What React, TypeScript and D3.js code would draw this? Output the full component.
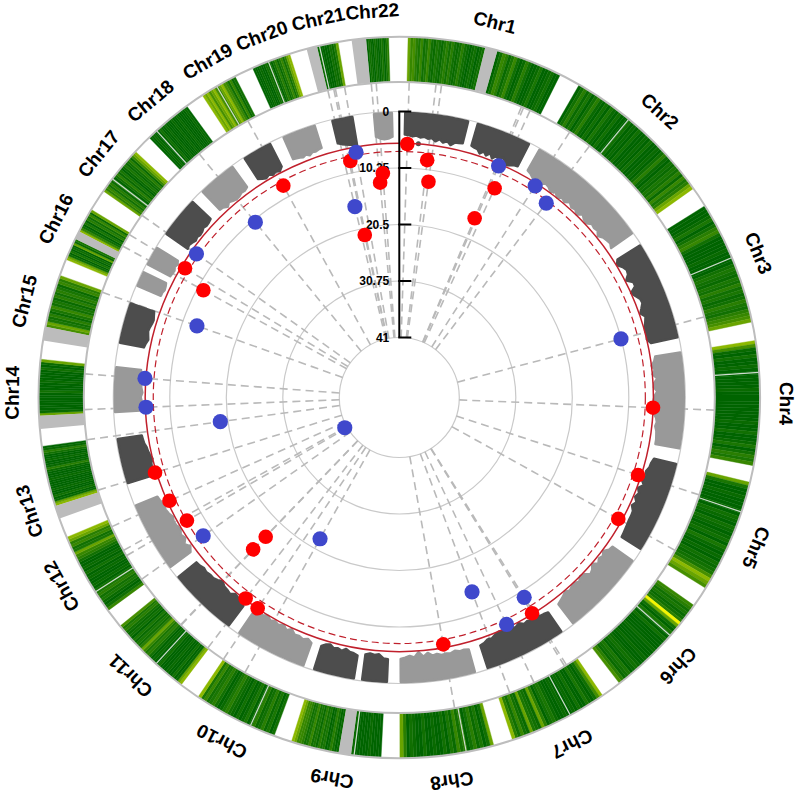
import * as d3 from 'd3';

const WIDTH = 797;
const HEIGHT = 798;
const CX = 399.3;
const CY = 397.5;

// chromosome labels, with the angle (degrees clockwise from top) they sit at
const chrNames = ['Chr1','Chr2','Chr3','Chr4','Chr5','Chr6','Chr7','Chr8','Chr9','Chr10','Chr11','Chr12','Chr13','Chr14','Chr15','Chr16','Chr17','Chr18','Chr19','Chr20','Chr21','Chr22'];
const chrAngles = [14.3,42.3,68.1,90.9,112.8,133.9,153.5,172.2,190,207.3,224,240.8,252.9,270.7,284.4,297.5,309,320,330.3,339.2,347.9,356];

// outer density ring: one entry per arm
const armStarts = [1.4,15.8,29.9,57.9,80.9,103.6,125.2,145.7,164.8,182.9,189.7,200.3,217.2,233.8,252.5,267.1,281.3,292.5,297.4,304.9,316.1,326.9,336,346.8,354.7];
const armEnds = [13.8,26.5,54.6,77.9,100.9,121.9,142.4,161.7,179.9,187.7,197.4,213.9,230.7,247.2,262.2,276.1,289.8,296.1,301.4,313,323.9,332.9,342.3,350.2,358.3];
const armDensity = [
  [7,5,6,4,3,5,2,3,5,2,1,3,2,1,3,4,2,4,2,1,2,4,2,1,0,1,2,0,1,2],
  [0,2,5,4,1,3,5,2,0,1,4,2,0,0,1,3,0,0,1,2,0,0],
  [0,2,4,1,3,0,2,4,1,0,2,0,3,1,0,2,0,0,0,2,0,1,0,2,0,0,1,0,2,0,0,1,0,2,4,1,0,2,1,3,2,4,1,5,3,4,7,8],
  [0,0,0,1,3,0,2,4,5,2,0,0,0,0,1,0,0,0,0,2,3,2,1,3,2,4,2,3,1,2,4,3,2,4,5,6,7],
  [8,6,1,0,2,0,0,1,0,0,0,0,0,0,1,0,0,0,0,0,0,0,0,0,1,0,0,2,0,0,1,3,0,2,4,3,5],
  [7,3,0,0,1,0,0,0,1,0,2,1,0,2,1,0,1,2,0,3,1,0,1,0,2,1,2,3,6,8,7,6],
  [5,4,2,3,1,2,4,10,7,2,0,3,1,0,2,0,0,0,0,1,0,0,0,1,0,0,1,2,1,0,3,2,1,4,6],
  [8,6,2,0,1,3,0,0,2,0,1,0,0,1,0,0,1,3,2,0,4,7,1,2,3,7,1,2,5,2,4,8],
  [7,2,0,3,1,4,2,0,4,2,5,1,3,0,2,0,0,1,0,0,2,0,0,1,2,0,4,7],
  [0,0,0,0,1,0,0,0,0,0,1],
  [1,0,2,4,1,0,3,2,4,1,3,2,5,3,2,4,5,5,7,8],
  [2,0,3,1,4,2,1,4,2,0,3,1,0,2,0,1,2,4,3,1,0,2,4,3,2,5,3,8],
  [8,7,1,0,2,0,0,1,0,0,0,2,0,0,1,0,2,4,3,5,7,4,2,3,1,3,0,2,1,2,4,3,6],
  [5,2,0,1,3,2,4,3,2,0,1,0,0,1,0,2,0,1,0,0,2,4,5,7,3,2,5,4,7,8],
  [8,7,1,0,2,0,0,1,0,0,0,0,1,0,0,0,1,4,1,0,0,1,0,0,2,4,1,0],
  [7,1,0,0,0,0,0,0,0,2,0,0,0,1,0,0,0,0,2,0,1,7],
  [6,7,3,2,4,1,3,5,2,3,1,4,2,4,3,1,5,4,7],
  [8,7,2,0,3,0,2,0,7,1,3],
  [8,5,2,0,3,0,4,2,5,1,7],
  [7,4,5,2,4,1,3,0,2,4,1,3,0,1,3,1,2,4,1,5,7,8],
  [0,0,1,0,0,0,2,0,0,1,0,0,0,1,0,0,1,0,0,0,0,1,0],
  [8,7,8,6,7,8,6,5,7,8,6,5,2,5,1,2],
  [0,0,0,1,0,0,2,1,3,0,2,4,1,3,5,2,4,7,8],
  [1,0,0,0,0,2,1,3,7],
  [0,2,1,0,2,1,0,1,3,0,2,4],
];

// centromere blocks in the ring, grey
const centromereStarts = [13.8,187.7,250.4,265,279.1,296.1,345.1,352.4];
const centromereEnds = [15.8,189.7,252.5,267.1,281.3,297.4,346.8,354.7];

// thin pale cuts through the ring
const ringCuts = [39.5,67.2,86,108.5,131.3,151.7,169.3,187.2,204.4,222.4,237.4,307.3,317.7,329.6,338.7,347.2];

// Manhattan band: inner edge of each chromosome block, -log10(p)
const bandStarts = [0.9,15.7,29.2,57.4,80.6,103.2,124.7,145,164.3,182.2,188.9,199.4,216.5,233.2,252.2,266.8,280.8,292.8,297.6,304.8,316,326.8,335.7,346.1,354.6];
const bandEnds = [14.3,27.4,55.1,78.1,100.6,122.4,142.7,162.2,180,187.8,197.7,214.5,231.2,248,261.9,276.4,289.6,296.4,302,313.7,324.4,333.3,343,350.8,358.8];
const bandProfiles = [
  [4.3,4.4,4.6,4.4,4.7,4.5,4.8,4.6,5.1,4.6,5.1,4.7,5.3,4.7,4.6,4.5],
  [4.5,4.7,4.8,5.4,4.8,5.4,4.7,5.5,4.8,5.3,4.6,5.1,5.6,5.3,5,4.9],
  [4.7,5,5.5,4.9,5.6,5,5.2,5.7,5.2,5.8,5.3,5.6,5,5.5,5.3,5.8,5,5.5,5.7,5,5.2,5,5.6,5,4.8,4.6,5],
  [5.2,5.8,5.1,4.7,4.9,5.7,4.7,4.7,5.9,5.4,4.8,4.7,5.2,5.7,5,5.3,5.6,5.8,5.7,5.9,5.3],
  [5,5.3,5.9,5.4,5.9,5.1,5.7,5.8,5.2,5.7,5.9,5.2,5.3,5.8,5.3,5.1,5.3,5,4.9,4.8,4.8],
  [4.5,4.8,4.9,5.3,5,5.6,4.9,5.7,5.2,5.6,5,5.5,4.9,4.8,4.8,4.7,4.6,4.5,4.4],
  [4.8,5,5.7,5.2,5.5,5,5.8,5.1,4.8,5.6,5.9,5.3,5.7,5.6,5.3,5.7,5.3,5,4.7],
  [4.6,4.8,4.9,5.9,5,5.3,5.1,5.7,5.3,5.6,5.4,5.8,5.9,5.6,5.2,5.3,4.9,4.7],
  [4.6,4.8,4.7,5,4.7,4.8,4.7,5,4.8,5.4,4.8,5.7,4.8,5.1,4.8,4.6],
  [4.5,4.6,5.3,5.1,5.3,5],
  [4.6,4.9,5,5.4,4.9,5.2,5,5.5,5.3,4.8],
  [4.7,5.2,4.8,5.1,5,5.7,5.1,5.8,5.3,5.6,5.3,5.8,5.4,5.6,5.5],
  [4.8,5.6,5.4,5.6,5,5.2,5.3,5.8,5.3,5,5,4.8,5,4.7,4.6],
  [4.9,5.5,4.8,5.6,5.2,5.7,5.4,5.3,5.6,5.2,5,5.1,4.8,4.6],
  [5,5,5.4,5.5,5.9,5.6,5.4,5.3,5,4.9,4.8],
  [5,5.2,5.3,5.1,5.4,5.2,5.1,4.8,5,4.9],
  [4.8,5,5.3,5.1,4.9,5,5.2,5.3,5.1,4.9],
  [5,5,5.2,5.1,4.9],
  [5,5.1,5.2,4.9,5.1,4.8],
  [5.1,4.9,5.1,5.4,5.2,5.4,5.3,5,5.2,5.1,4.9],
  [4.9,5,5.5,5,5.3,5.5,5.4,5.1,5.2,4.9],
  [4.8,5.2,5.5,5.2,5.6,5.3,5.6,5],
  [4.7,4.8,4.9,5.1,4.8,5.2,4.8,4.9,4.7,4.6],
  [4.6,4.9,5.1,5.3,5.4,5.6],
  [4.5,4.9,5.1,5,4.7],
];
const bandColors = ['#4d4d4d','#4d4d4d','#999999','#4d4d4d','#999999','#4d4d4d','#999999','#4d4d4d','#999999','#4d4d4d','#4d4d4d','#999999','#4d4d4d','#999999','#4d4d4d','#999999','#4d4d4d','#999999','#999999','#4d4d4d','#999999','#4d4d4d','#999999','#4d4d4d','#999999'];

// lone SNPs sitting just off the band
const strayAngles = [4.3,148.9,170.6];
const strayValues = [5.7,6.4,5.8];
const strayColors = ['#4d4d4d','#4d4d4d','#999999'];

// highlighted loci
const redAngles = [1.8,6.7,7.7,24.5,22.8,348.3,355.8,354.9,348,92.3,108,119,148.4,169.9,213.9,217.4,223.8,223.9,245.8,239.9,252.9,298.7,301.1,331.3];
const redValues = [5.88,8.53,12.39,10.18,16.62,8.07,11.1,12.75,21.75,5.82,6.35,6.46,5.93,6.4,5.81,5.99,16.87,13.64,6.17,7.35,5.52,11.36,6.49,8.07];
const blueAngles = [23.2,32.7,37.1,350,346.9,75.2,148,154.7,159.5,209.3,234.8,241,262.3,274.3,267.8,289.5,305.3,320.6];
const blueValues = [6.17,6.26,7.69,6.71,16.35,10.29,9.13,6.35,14.22,22.5,8.35,40.57,19.12,5.62,5.9,12.94,6.79,10.74];

const axisTicks = [0,10.25,20.5,30.75,41];
const axisTickLabels = ['0','10.25','20.5','30.75','41'];
const solidThreshold = 5.8;
const dashedThreshold = 7.25;

const rScale = d3.scaleLinear().domain([0, 41]).range([286, 60]);
const toRad = d3.scaleLinear().domain([0, 360]).range([0, 2 * Math.PI]);
const densityColor = d3.scaleLinear<string>()
  .domain([0, 3, 6, 8, 10])
  .range(['#006400', '#1a7603', '#468f00', '#8cb800', '#f5f500']);

const RING_IN = 316;
const RING_OUT = 360.5;
const ringArc = d3.arc().innerRadius(RING_IN).outerRadius(RING_OUT);

function polar(angle: number, r: number): [number, number] {
  const a = toRad(angle);
  return [r * Math.sin(a), -r * Math.cos(a)];
}

function ArmStripes({ start, end, values }: { start: number; end: number; values: number[] }) {
  const x = d3.scaleLinear().domain([0, values.length]).range([start, end]);
  return (
    <g>
      {values.map((v, i) => {
        const d = ringArc({
          startAngle: toRad(x(i)),
          endAngle: toRad(x(i + 1)),
        } as any) as string;
        return <path key={i} d={d} fill={densityColor(v)} stroke={densityColor(v)} strokeWidth={0.4} />;
      })}
    </g>
  );
}

function BandBlock({ start, end, values, color }: { start: number; end: number; values: number[]; color: string }) {
  const x = d3.scaleLinear().domain([0, values.length - 1]).range([start + 0.3, end - 0.3]);
  const area = d3.areaRadial<number>()
    .angle((_, i) => toRad(x(i)))
    .innerRadius((v) => rScale(v) + 0.8)
    .outerRadius(284.5)
    .curve(d3.curveLinear);
  return <path d={area(values) as string} fill={color} stroke={color} strokeWidth={2.5} strokeLinejoin="round" />;
}

export default function App() {
  const allAngles = [...redAngles, ...blueAngles];
  const axisY = (v: number) => -rScale(v);
  return (
    <svg width={WIDTH} height={HEIGHT} style={{ position: 'absolute', left: 0, top: 0, background: '#fff' }} fontFamily="'Liberation Sans', Arial, sans-serif">
      <g transform={`translate(${CX},${CY})`}>
        {/* density ring */}
        {armDensity.map((vals, i) => (
          <ArmStripes key={i} start={armStarts[i]} end={armEnds[i]} values={vals} />
        ))}
        {centromereStarts.map((s, i) => (
          <path key={i} d={ringArc({ startAngle: toRad(s), endAngle: toRad(centromereEnds[i]) } as any) as string} fill="#bcbcbc" />
        ))}
        {ringCuts.map((a, i) => {
          const [x1, y1] = polar(a, RING_IN);
          const [x2, y2] = polar(a, RING_OUT);
          return <line key={i} x1={x1} y1={y1} x2={x2} y2={y2} stroke="#cfdccf" strokeWidth={1.2} />;
        })}
        <circle r={315.5} fill="none" stroke="#bdbdbd" strokeWidth={2} />
        <circle r={360.8} fill="none" stroke="#bdbdbd" strokeWidth={2} />

        {/* grid */}
        {axisTicks.map((t) => (
          <circle key={t} r={rScale(t)} fill="none" stroke="#c9c9c9" strokeWidth={1.2} />
        ))}

        {/* dashed spokes, one per locus */}
        {allAngles.map((a, i) => {
          const [x1, y1] = polar(a, rScale(41));
          const [x2, y2] = polar(a, RING_IN);
          return <line key={i} x1={x1} y1={y1} x2={x2} y2={y2} stroke="#b9b9b9" strokeWidth={1.6} strokeDasharray="8 5" />;
        })}

        {/* manhattan band */}
        {bandProfiles.map((vals, i) => (
          <BandBlock key={i} start={bandStarts[i]} end={bandEnds[i]} values={vals} color={bandColors[i]} />
        ))}
        {strayAngles.map((a, i) => {
          const [x, y] = polar(a, rScale(strayValues[i]));
          return <circle key={i} cx={x} cy={y} r={2.5} fill={strayColors[i]} />;
        })}

        {/* thresholds */}
        <circle r={rScale(solidThreshold) + 0.1} fill="none" stroke="#c0202c" strokeWidth={1.5} />
        <circle r={rScale(dashedThreshold)} fill="none" stroke="#c0202c" strokeWidth={1.2} strokeDasharray="7 4" />

        {/* axis */}
        <line x1={0} x2={0} y1={axisY(0)} y2={axisY(41)} stroke="#000" strokeWidth={2} />
        {axisTicks.map((t, i) => (
          <g key={t}>
            <line x1={-1} x2={12} y1={axisY(t)} y2={axisY(t)} stroke="#000" strokeWidth={2} />
            <text x={-10} y={axisY(t)} textAnchor="end" dominantBaseline="central" fontSize={12} fontWeight="bold" fill="#000">
              {axisTickLabels[i]}
            </text>
          </g>
        ))}

        {/* loci */}
        {redAngles.map((a, i) => {
          const [x, y] = polar(a, rScale(redValues[i]));
          return <circle key={i} cx={x} cy={y} r={7.3} fill="#ff0000" />;
        })}
        {blueAngles.map((a, i) => {
          const [x, y] = polar(a, rScale(blueValues[i]));
          return <circle key={i} cx={x} cy={y} r={7.6} fill="#3f48cc" />;
        })}

        {/* chromosome names */}
        {chrNames.map((name, i) => {
          const [x, y] = polar(chrAngles[i], 387);
          return (
            <text
              key={name}
              transform={`translate(${x},${y}) rotate(${chrAngles[i]})`}
              textAnchor="middle"
              dominantBaseline="central"
              fontSize={19}
              fontWeight="bold"
              fill="#000"
            >
              {name}
            </text>
          );
        })}
      </g>
    </svg>
  );
}
